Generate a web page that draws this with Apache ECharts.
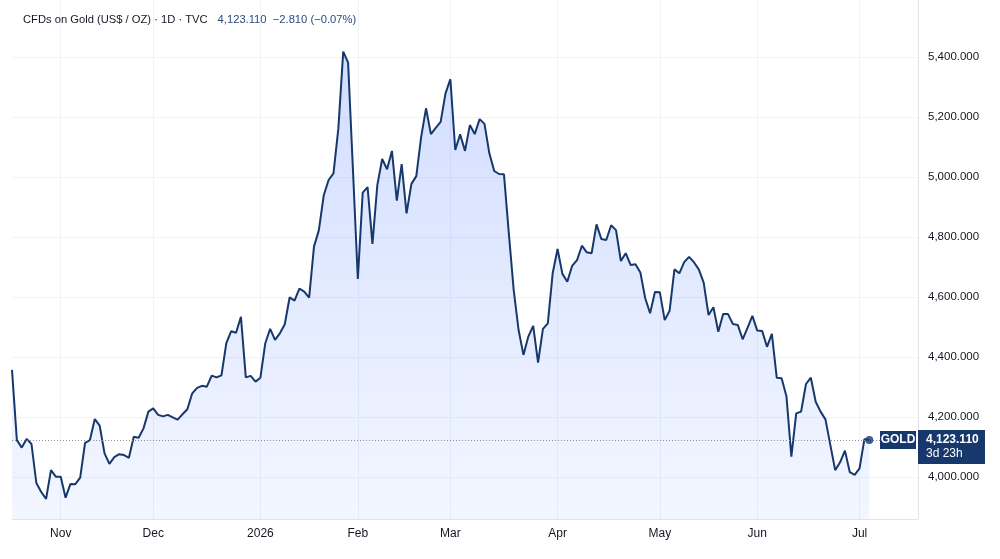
<!DOCTYPE html>
<html>
<head>
<meta charset="utf-8">
<title>CFDs on Gold</title>
<script src="https://cdn.jsdelivr.net/npm/echarts@6/dist/echarts.min.js"></script>
<style>
    html, body { margin: 0; padding: 0; background: #fff; }
    #goldChart { width: 1000px; height: 559px; }
</style>
</head>
<body>
<div id="goldChart"></div>
<script>
// 收盘价（从 2025/10/20 开始的交易日）
var prices = [4357, 4123, 4098, 4127, 4110, 3980, 3950, 3927, 4023, 4001,
    4001, 3931, 3977, 3976, 3998, 4114, 4123, 4193, 4171, 4079,
    4044, 4066, 4076, 4073, 4064, 4134, 4131, 4162, 4218, 4229,
    4207, 4202, 4207, 4199, 4191, 4209, 4226, 4279, 4297, 4304,
    4301, 4338, 4332, 4339, 4446, 4486, 4481, 4534, 4332, 4337,
    4318, 4331, 4446, 4494, 4457, 4479, 4509, 4599, 4588, 4628,
    4618, 4598, 4768, 4823, 4939, 4990, 5012, 5162, 5418, 5381,
    5023, 4660, 4948, 4966, 4777, 4973, 5060, 5026, 5087, 4921,
    5043, 4879, 4977, 5003, 5134, 5229, 5143, 5164, 5184, 5279,
    5326, 5090, 5142, 5087, 5173, 5143, 5193, 5177, 5079, 5020,
    5010, 5009, 4812, 4623, 4490, 4407, 4468, 4504, 4381, 4494,
    4512, 4679, 4760, 4677, 4651, 4704, 4723, 4771, 4749, 4746,
    4842, 4793, 4790, 4839, 4823, 4720, 4746, 4707, 4709, 4682,
    4596, 4546, 4617, 4616, 4523, 4554, 4692, 4679, 4716, 4734,
    4716, 4692, 4648, 4540, 4566, 4484, 4543, 4543, 4510, 4507,
    4459, 4497, 4537, 4488, 4487, 4434, 4477, 4331, 4329, 4268,
    4068, 4212, 4218, 4310, 4331, 4251, 4218, 4192, 4107, 4023,
    4049, 4088, 4016, 4007, 4029, 4126, 4123.11];

// 休市日
var holidays = ['2025-11-27', '2025-12-25', '2026-01-01', '2026-01-19', '2026-02-16',
    '2026-04-03', '2026-05-25', '2026-06-19', '2026-07-03'];
var monthNames = ['Jan', 'Feb', 'Mar', 'Apr', 'May', 'Jun', 'Jul', 'Aug', 'Sep', 'Oct', 'Nov', 'Dec'];
var yTicks = [4000, 4200, 4400, 4600, 4800, 5000, 5200, 5400];
var startDay = '2025-10-20';
var futureDays = 10; // 右侧留白

var lastPrice = 4123.11;
var headerName = 'CFDs on Gold (US$ / OZ) · 1D · TVC';
var headerQuote = '4,123.110  \u22122.810 (\u22120.07%)';

function pad(n) {
    return n < 10 ? '0' + n : '' + n;
}

// 生成交易日
function tradingDays(start, count) {
    var out = [];
    var d = new Date(start + 'T00:00:00Z');
    while (out.length < count) {
        var wd = d.getUTCDay();
        var s = d.getUTCFullYear() + '-' + pad(d.getUTCMonth() + 1) + '-' + pad(d.getUTCDate());
        if (wd !== 0 && wd !== 6 && holidays.indexOf(s) < 0) {
            out.push(s);
        }
        d = new Date(d.getTime() + 86400000);
    }
    return out;
}

var dates = tradingDays(startDay, prices.length + futureDays);

function isMonthStart(idx) {
    if (idx === 0) return false;
    return dates[idx].substr(5, 2) !== dates[idx - 1].substr(5, 2);
}

function fmtPrice(v) {
    return v.toFixed(3).replace(/\B(?=(\d{3})+(?!\d))/g, ',');
}

var font = 'Liberation Sans';
var navy = '#17386c';

var chart = echarts.init(document.getElementById('goldChart'));
var option = {
    animation: false,
    backgroundColor: '#ffffff',
    title: {
        left: 18,
        top: 6,
        text: '{a|' + headerName + '}  {b|' + headerQuote + '}',
        textStyle: {
            fontWeight: 'normal',
            rich: {
                a: {fontFamily: font, fontSize: 11.2, fontWeight: 'normal', color: '#131722'},
                b: {fontFamily: font, fontSize: 11.2, fontWeight: 'normal', color: '#2a4a7f'}
            }
        }
    },
    grid: {
        left: 12,
        right: 82,
        top: 0,
        bottom: 40
    },
    xAxis: {
        type: 'category',
        data: dates,
        boundaryGap: false,
        axisLine: {show: true, lineStyle: {color: '#e0e3eb'}},
        axisTick: {show: false},
        axisLabel: {
            interval: function (idx) {
                return isMonthStart(idx);
            },
            formatter: function (val) {
                var m = Number(val.substr(5, 2));
                return m === 1 ? val.substr(0, 4) : monthNames[m - 1];
            },
            margin: 9,
            fontFamily: font,
            fontSize: 12,
            color: '#131722'
        },
        splitLine: {
            show: true,
            interval: function (idx) {
                return isMonthStart(idx);
            },
            lineStyle: {color: '#f0f3fa'}
        }
    },
    yAxis: {
        type: 'value',
        position: 'right',
        min: 3860,
        max: 5590,
        axisLine: {show: true, lineStyle: {color: '#e0e3eb'}},
        axisTick: {show: false, customValues: yTicks},
        axisLabel: {
            customValues: yTicks,
            margin: 10,
            fontFamily: font,
            fontSize: 11.5,
            color: '#131722',
            formatter: function (v) {
                return fmtPrice(v);
            }
        },
        splitLine: {show: true, lineStyle: {color: '#f0f3fa'}}
    },
    series: [{
        name: 'GOLD',
        type: 'line',
        data: prices,
        showSymbol: false,
        lineStyle: {color: navy, width: 2},
        itemStyle: {color: navy},
        areaStyle: {
            color: new echarts.graphic.LinearGradient(0, 0, 0, 1, [
                {offset: 0, color: 'rgba(41,98,255,0.3)'},
                {offset: 1, color: 'rgba(41,98,255,0.08)'}
            ])
        },
        markLine: {
            silent: true,
            symbol: 'none',
            label: {show: false},
            lineStyle: {color: '#8a8f9c', type: [1, 2], width: 1},
            data: [{yAxis: lastPrice}]
        }
    }, {
        // 最新价圆点
        type: 'scatter',
        data: [[prices.length - 1, lastPrice]],
        symbolSize: 8,
        itemStyle: {color: navy},
        z: 5
    }]
};
chart.setOption(option);

// 最新价标签，位置由坐标轴换算
var py = chart.convertToPixel({yAxisIndex: 0}, lastPrice);
var axisX = chart.convertToPixel({xAxisIndex: 0}, dates.length - 1);
chart.setOption({
    graphic: [
        {
            type: 'rect',
            shape: {x: axisX - 38, y: py - 9, width: 36, height: 18},
            style: {fill: navy},
            z: 10
        },
        {
            type: 'text',
            x: axisX - 20, y: py,
            style: {text: 'GOLD', fill: '#fff', font: 'bold 12px ' + font, align: 'center', verticalAlign: 'middle'},
            z: 11
        },
        {
            type: 'rect',
            shape: {x: axisX, y: py - 10, width: 67, height: 34},
            style: {fill: navy},
            z: 10
        },
        {
            type: 'text',
            x: axisX + 8, y: py,
            style: {text: fmtPrice(lastPrice), fill: '#fff', font: 'bold 12px ' + font, verticalAlign: 'middle'},
            z: 11
        },
        {
            type: 'text',
            x: axisX + 8, y: py + 14,
            style: {text: '3d 23h', fill: '#fff', font: '12px ' + font, verticalAlign: 'middle'},
            z: 11
        }
    ]
});
window.onresize = chart.resize;
</script>
</body>
</html>
